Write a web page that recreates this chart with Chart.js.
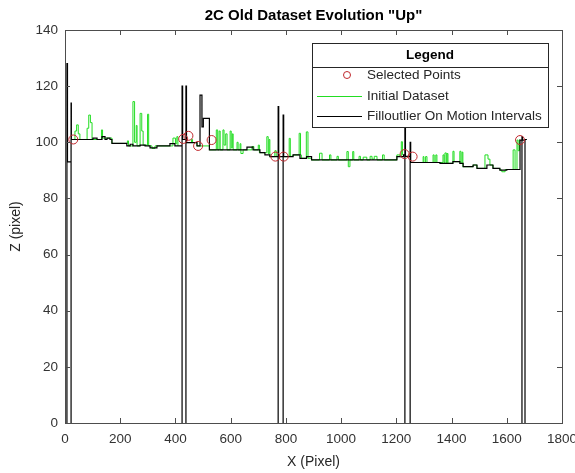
<!DOCTYPE html>
<html>
<head>
<meta charset="utf-8">
<script src="https://cdn.jsdelivr.net/npm/chart.js@4.4.1/dist/chart.umd.min.js"></script>
<style>
  html, body { margin: 0; padding: 0; background: #fff; }
  canvas { display: block; }
</style>
</head>
<body>
<canvas id="chart" width="575" height="473"></canvas>
<script>
const titleText = '2C Old Dataset Evolution "Up"';
const xTicks = [0, 200, 400, 600, 800, 1000, 1200, 1400, 1600, 1800];
const yTicks = [0, 20, 40, 60, 80, 100, 120, 140];

// Filloutlier On Motion Intervals (step change points)
const blackX = [7, 7, 9, 22, 22, 23, 101, 116, 134, 145, 152, 163, 170, 224, 236, 246, 272, 290, 308, 333, 380, 398,
    424, 424, 426, 438, 438, 440, 478, 489, 496, 501, 523, 659, 681, 706, 724, 742,
    772, 772, 774, 790, 790, 792, 826, 851, 875, 893, 1202, 1226,
    1231, 1231, 1233, 1250, 1250, 1252, 1358, 1405, 1430, 1442, 1478, 1492, 1528, 1550, 1575, 1600, 1648,
    1655, 1655, 1657, 1666, 1666, 1673];
const blackZ = [0, 128, 93, 0, 114, 101, 101.5, 101, 102, 101, 101.5, 101, 99.6, 98.7, 99.3, 98.7, 99, 98.7, 98, 98.7, 99.5, 98.7,
    0, 120, 101, 0, 120, 99.9, 98.7, 116.8, 105.5, 108.5, 97.3, 98.3, 97.3, 96.3, 95.5, 94.9,
    0, 112.7, 94.9, 0, 109.7, 94.9, 95.5, 94.3, 94.9, 93.7, 94.9, 95.5,
    0, 115, 95, 0, 100, 92.8, 92.5, 93.1, 92.5, 91.3, 91.9, 90.7, 91.9, 90.7, 90.1, 90.3, 100.8,
    0, 102, 100.8, 0, 101, 101];

// Initial Dataset (step change points, null = gap)
const greenX = [22, 36, 42, 48, 54, 80, 86, 92, 98, 116, 132, 136, 170, 226, 230, 246, 252, 258, 261, 272, 278, 283, 299, 303, 315, 326, 391, 400, 405, 409, 424,
    440, 458, 462, 478, 523, 548, 553, 558, 562, 572, 576, 582, 587, 598, 602, 606, 609, 623, 627, 634, 637, 645, 677, 684, 700, 704, 731, 736, 739, 742, 760, 765, 772,
    790, 812, 816, 826, 848, 853, 856, 874, 880, 893, 922, 931, 958, 963, 985, 990, 1021, 1026, 1032, 1042, 1046, 1065, 1070, 1080, 1093, 1105, 1112, 1120, 1130, 1150, 1156, 1202, 1213, 1218, 1222, 1231,
    1252, 1297, 1300, 1306, 1311, 1333, 1337, 1343, 1347, 1369, 1373, 1376, 1381, 1384, 1387, 1405, 1409, 1430, 1434, 1438, 1441, 1478, 1492, 1521, 1532, 1539, 1550, 1575, 1582, 1594, 1623, 1630, 1637, 1641, 1646, 1655];
const greenZ = [101, 104, 106.2, 103, 101, 105, 109.7, 107, 101, 101, 104.4, 101.5, 99.6, 100.5, 98.7, 114.5, 100, 106, 98.7, 110.3, 104, 99, 110, 98.7, 97.8, 98.7, 101.5, 99.5, 102, 98.7, null,
    99.9, 101, 99.9, 98.7, 97.3, 104.4, 97.3, 104, 97.3, 104.4, 99, 103, 97.3, 104, 98, 103, 97.3, 100, 97.3, 99.5, 96, 97.3, 98.5, 97.3, 99, 96.3, 102, 96, 101, 94.9, 97, 94.9, null,
    94.9, 101.4, 95, 95.5, 103.2, 95.5, 94.3, 103.7, 94.3, 93.7, 96.1, 93.7, 95.5, 93.7, 95, 93.7, 96.7, 91.3, 93.7, 96.7, 93.7, 95, 93.7, 94.7, 93.7, 95, 94, 95, 93.7, 95.5, 93.7, 95.5, 94.9, 100.2, 95.5, null,
    92.8, 94.9, 92.8, 94.9, 92.8, 95.5, 92.8, 95.5, 92.8, 95.5, 92.5, 96.2, 92.5, 96, 92.5, 96.8, 93.1, 96.8, 92.5, 96.5, 91.3, 91.9, 90.7, 95.5, 94, 91.9, 90.7, 90.1, 89.5, 90.3, 97.3, 90.3, 100.8, 97, 101, null];

// Selected Points
const selX = [30, 428, 447, 482, 531, 762, 792, 1230, 1259, 1648];
const selZ = [101, 101.2, 102.3, 98.7, 100.8, 94.9, 94.9, 95.8, 94.9, 100.8];

const toPoints = (xs, zs) => xs.map((x, i) => ({ x: x, y: zs[i] }));

const FONT = '"Liberation Sans", Arial, Helvetica, sans-serif';
const GREEN = '#22dd22';
const RED = '#c0282d';

const matlabBox = {
    id: 'matlabBox',
    afterDatasetsDraw(chart) {
        const { ctx, chartArea: a, scales } = chart;
        ctx.save();
        // axes box + inward ticks
        ctx.strokeStyle = '#4d4d4d';
        ctx.lineWidth = 1;
        ctx.strokeRect(Math.round(a.left) + 0.5, Math.round(a.top) + 0.5, Math.round(a.right - a.left), Math.round(a.bottom - a.top));
        ctx.beginPath();
        xTicks.forEach(v => {
            const p = Math.round(scales.x.getPixelForValue(v)) + 0.5;
            ctx.moveTo(p, a.bottom); ctx.lineTo(p, a.bottom - 5);
            ctx.moveTo(p, a.top); ctx.lineTo(p, a.top + 5);
        });
        yTicks.forEach(v => {
            const p = Math.round(scales.y.getPixelForValue(v)) + 0.5;
            ctx.moveTo(a.left, p); ctx.lineTo(a.left + 5, p);
            ctx.moveTo(a.right, p); ctx.lineTo(a.right - 5, p);
        });
        ctx.stroke();

        // title
        ctx.fillStyle = '#000';
        ctx.font = 'bold 15px ' + FONT;
        ctx.textAlign = 'center';
        ctx.textBaseline = 'middle';
        ctx.fillText(titleText, (a.left + a.right) / 2, 16);

        // legend box
        const L = 312, T = 43, R = 548, B = 127;
        ctx.fillStyle = '#fff';
        ctx.fillRect(L, T, R - L, B - T);
        ctx.strokeStyle = '#262626';
        ctx.strokeRect(L + 0.5, T + 0.5, R - L, B - T);
        ctx.beginPath();
        ctx.moveTo(L, 67.5); ctx.lineTo(R, 67.5);
        ctx.stroke();
        ctx.fillStyle = '#000';
        ctx.font = 'bold 13.5px ' + FONT;
        ctx.fillText('Legend', (L + R) / 2, 55);

        ctx.font = '13.5px ' + FONT;
        ctx.textAlign = 'left';
        ctx.fillStyle = '#262626';
        const labels = chart.data.datasets.map(d => d.label);
        const rows = [75, 96, 116];
        // marker sample
        ctx.strokeStyle = RED;
        ctx.beginPath();
        ctx.arc(347, rows[0], 3.5, 0, Math.PI * 2);
        ctx.stroke();
        ctx.fillText(labels[0], 367, rows[0]);
        // line samples
        ctx.strokeStyle = GREEN;
        ctx.beginPath(); ctx.moveTo(317, rows[1] + 0.5); ctx.lineTo(362, rows[1] + 0.5); ctx.stroke();
        ctx.fillText(labels[1], 367, rows[1]);
        ctx.strokeStyle = '#000';
        ctx.beginPath(); ctx.moveTo(317, rows[2] + 0.5); ctx.lineTo(362, rows[2] + 0.5); ctx.stroke();
        ctx.fillText(labels[2], 367, rows[2]);
        ctx.restore();
    }
};

new Chart(document.getElementById('chart').getContext('2d'), {
    type: 'line',
    data: {
        datasets: [{
            label: 'Selected Points',
            data: toPoints(selX, selZ),
            showLine: false,
            pointRadius: 4.5,
            pointStyle: 'circle',
            pointBorderColor: RED,
            pointBackgroundColor: 'rgba(0,0,0,0)',
            pointBorderWidth: 1,
            order: 0
        }, {
            label: 'Initial Dataset',
            data: toPoints(greenX, greenZ),
            borderColor: GREEN,
            borderWidth: 1,
            pointRadius: 0,
            stepped: 'before',
            spanGaps: false,
            order: 2
        }, {
            label: 'Filloutlier On Motion Intervals',
            data: toPoints(blackX, blackZ),
            borderColor: '#000',
            borderWidth: 1.2,
            pointRadius: 0,
            stepped: 'before',
            order: 1
        }]
    },
    options: {
        responsive: false,
        animation: false,
        devicePixelRatio: 1,
        layout: { padding: { top: 30, right: 13, left: 0, bottom: 0 } },
        plugins: {
            legend: { display: false },
            title: { display: false },
            tooltip: { enabled: false }
        },
        scales: {
            x: {
                type: 'linear',
                min: 0,
                max: 1800,
                grid: { display: false, drawTicks: false },
                border: { display: false },
                ticks: { stepSize: 200, padding: 8, color: '#333', font: { family: FONT, size: 13.5 }, callback: v => String(v) },
                title: { display: true, text: 'X (Pixel)', color: '#262626', font: { family: FONT, size: 14 }, padding: { top: 0, bottom: 2 } },
                afterFit: s => { s.height = 50; s.paddingLeft = 0; s.paddingRight = 0; }
            },
            y: {
                min: 0,
                max: 140,
                grid: { display: false, drawTicks: false },
                border: { display: false },
                ticks: { stepSize: 20, padding: 7, color: '#333', font: { family: FONT, size: 13.5 }, callback: v => String(v) },
                title: { display: true, text: 'Z (pixel)', color: '#262626', font: { family: FONT, size: 14 }, padding: { top: 8, bottom: 0 } },
                afterFit: s => { s.width = 65; s.paddingTop = 0; s.paddingBottom = 0; }
            }
        }
    },
    plugins: [matlabBox]
});
</script>
</body>
</html>
